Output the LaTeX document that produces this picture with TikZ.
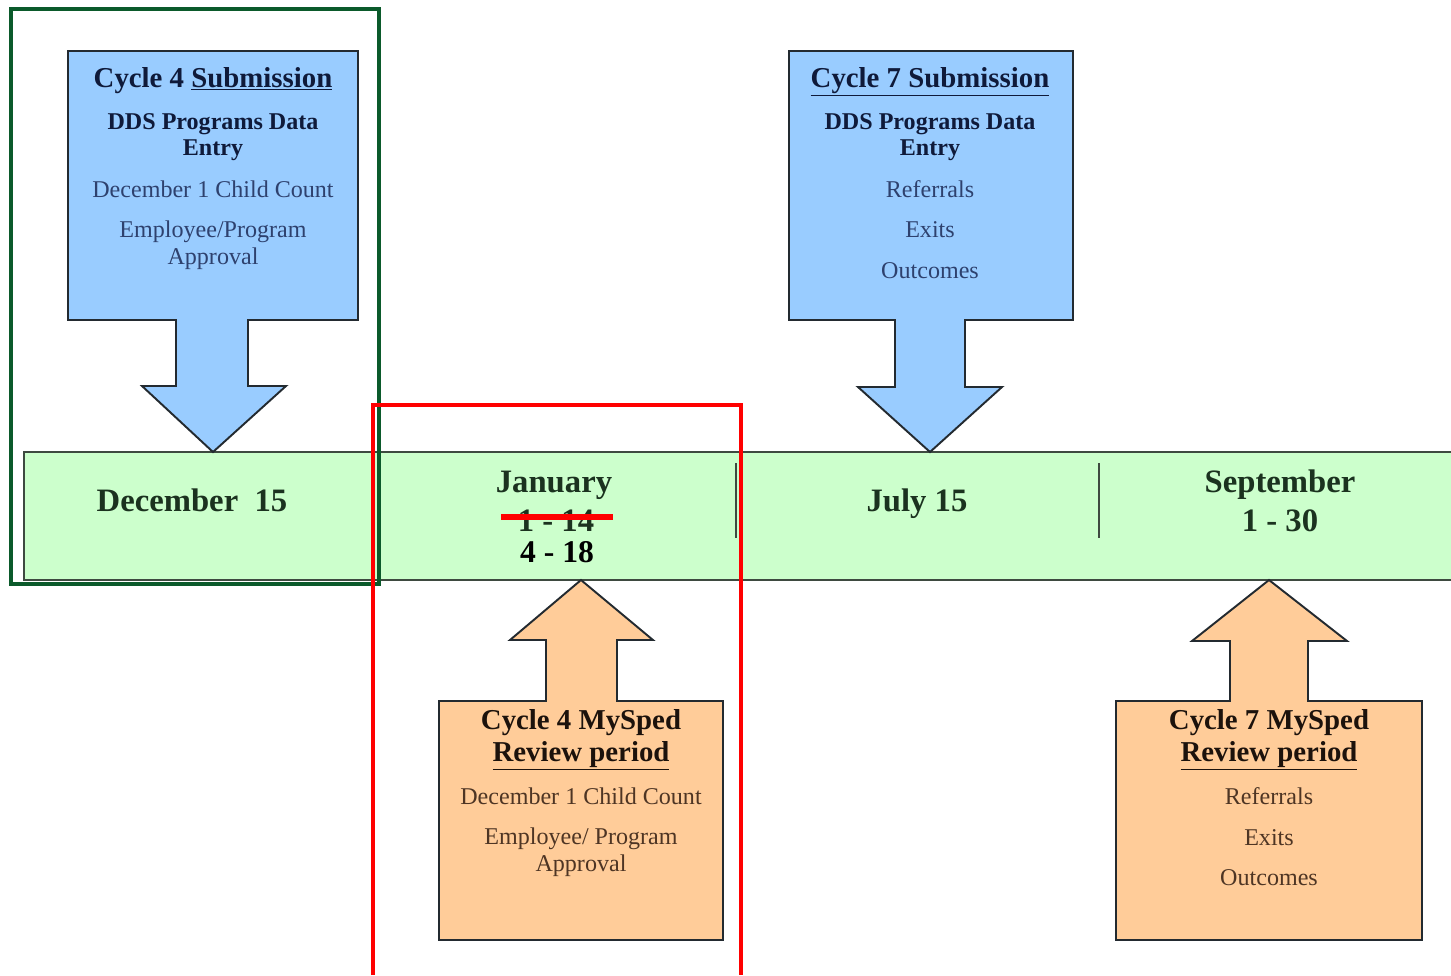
\documentclass[tikz,border=0pt]{standalone}
\usepackage{fontspec}
\setmainfont{Liberation Serif}
\usepackage{xcolor}
\definecolor{calloutblue}{HTML}{99CCFF}
\definecolor{calloutorange}{HTML}{FFCC99}
\definecolor{bandgreen}{HTML}{CCFFCC}
\definecolor{edgedark}{HTML}{232A30}
\definecolor{bandedge}{HTML}{3E4A40}
\definecolor{navytitle}{HTML}{0F1A3A}
\definecolor{navytext}{HTML}{2E416E}
\definecolor{browntitle}{HTML}{1C120C}
\definecolor{browntext}{HTML}{4E3524}
\definecolor{bandtext}{HTML}{1B321F}
\definecolor{framegreen}{HTML}{0B5A2B}

\begin{document}
\begin{tikzpicture}[x=0.02cm,y=-0.02cm]
\tikzset{
    callout/.style={draw=edgedark, line width=1.1pt, line join=miter},
    bluecallout/.style={callout, fill=calloutblue},
    orangecallout/.style={callout, fill=calloutorange},
    linetext/.style={anchor=base, inner sep=0pt},
    titlefont/.style={font=\fontsize{16.4}{18}\selectfont\bfseries},
    boldfont/.style={font=\fontsize{13.7}{15}\selectfont\bfseries},
    plainfont/.style={font=\fontsize{13.7}{15}\selectfont},
    bandfont/.style={linetext, font=\fontsize{18.6}{20}\selectfont\bfseries, text=bandtext}
}
\useasboundingbox (0,0) rectangle (1451,975);

% timeline band
\fill[bandgreen] (24,452) rectangle (1451,580);
\draw[bandedge, line width=1.6pt] (1451,452) -- (24,452) -- (24,580) -- (1451,580);
\draw[bandedge, line width=1.6pt] (736,463) -- (736,538);
\draw[bandedge, line width=1.6pt] (1099,463) -- (1099,538);

\node[bandfont] (dec) at (192,511) {December\ \ 15};
\node[bandfont] (jan) at (554,492) {January};
\node[bandfont] (janold) at (556,531) {1 - 14};
\node[linetext, font=\fontsize{18}{20}\selectfont\bfseries] (jannew) at (557,562) {4 - 18};
\node[bandfont] (jul) at (917,511) {July 15};
\node[bandfont] (sep) at (1280,492) {September};
\node[bandfont] (sepdays) at (1280,531) {1 - 30};
\draw[red, line width=3.4pt] (501,517) -- (613,517);

% submission callouts
\draw[bluecallout] (68,51) -- (358,51) -- (358,320) -- (248,320) -- (248,386)
    -- (286,386) -- (213,452) -- (142,386) -- (176,386) -- (176,320) -- (68,320) -- cycle;
\draw[bluecallout] (789,51) -- (1073,51) -- (1073,320) -- (965,320) -- (965,387)
    -- (1002,387) -- (930,452) -- (858,387) -- (895,387) -- (895,320) -- (789,320) -- cycle;

\node[linetext, titlefont, text=navytitle] (subA) at (213,87) {Cycle 4 \underline{Submission}};
\node[linetext, boldfont, text=navytitle] (subA1) at (213,129) {DDS Programs Data};
\node[linetext, boldfont, text=navytitle] (subA2) at (213,155) {Entry};
\node[linetext, plainfont, text=navytext] (subA3) at (213,197) {December 1 Child Count};
\node[linetext, plainfont, text=navytext] (subA4) at (213,237) {Employee/Program};
\node[linetext, plainfont, text=navytext] (subA5) at (213,264) {Approval};

\node[linetext, titlefont, text=navytitle] (subB) at (930,87) {\underline{Cycle 7 Submission}};
\node[linetext, boldfont, text=navytitle] (subB1) at (930,129) {DDS Programs Data};
\node[linetext, boldfont, text=navytitle] (subB2) at (930,155) {Entry};
\node[linetext, plainfont, text=navytext] (subB3) at (930,197) {Referrals};
\node[linetext, plainfont, text=navytext] (subB4) at (930,237) {Exits};
\node[linetext, plainfont, text=navytext] (subB5) at (930,278) {Outcomes};

% review callouts
\draw[orangecallout] (439,701) -- (546,701) -- (546,640) -- (510,640) -- (581,580)
    -- (653,640) -- (617,640) -- (617,701) -- (723,701) -- (723,940) -- (439,940) -- cycle;
\draw[orangecallout] (1116,701) -- (1230,701) -- (1230,641) -- (1192,641) -- (1269,580)
    -- (1347,641) -- (1308,641) -- (1308,701) -- (1422,701) -- (1422,940) -- (1116,940) -- cycle;

\node[linetext, titlefont, text=browntitle] (revA) at (581,729) {Cycle 4 MySped};
\node[linetext, titlefont, text=browntitle] (revA1) at (581,761) {\underline{Review period}};
\node[linetext, plainfont, text=browntext] (revA2) at (581,804) {December 1 Child Count};
\node[linetext, plainfont, text=browntext] (revA3) at (581,844) {Employee/ Program};
\node[linetext, plainfont, text=browntext] (revA4) at (581,871) {Approval};

\node[linetext, titlefont, text=browntitle] (revB) at (1269,729) {Cycle 7 MySped};
\node[linetext, titlefont, text=browntitle] (revB1) at (1269,761) {\underline{Review period}};
\node[linetext, plainfont, text=browntext] (revB2) at (1269,804) {Referrals};
\node[linetext, plainfont, text=browntext] (revB3) at (1269,845) {Exits};
\node[linetext, plainfont, text=browntext] (revB4) at (1269,885) {Outcomes};

% highlight frames
\draw[framegreen, line width=2.3pt] (11,9) rectangle (379,584);
\draw[red, line width=2.3pt] (373,975) -- (373,405) -- (741,405) -- (741,975);
\end{tikzpicture}
\end{document}
